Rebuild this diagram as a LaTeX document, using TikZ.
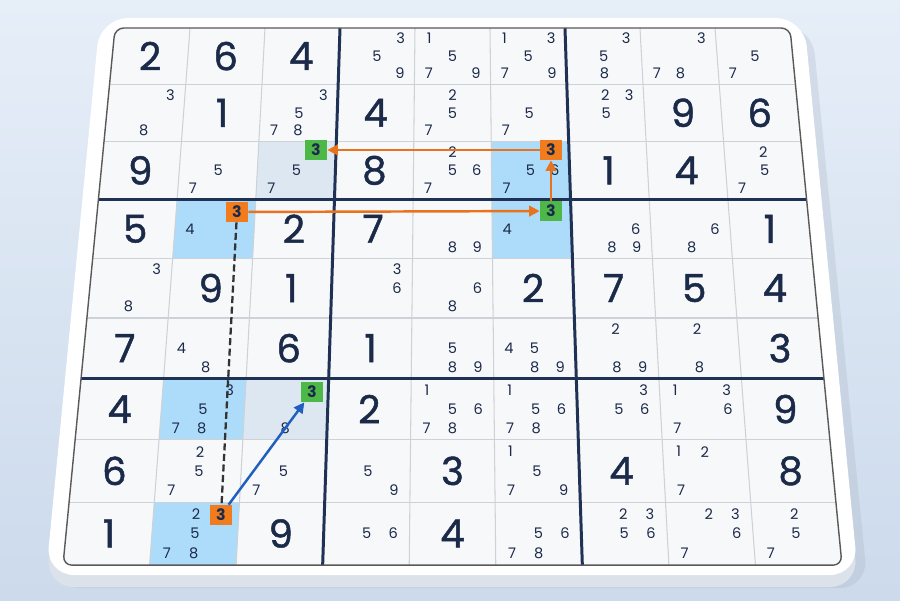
\documentclass[tikz,border=0pt]{standalone}
\usepackage{fontspec}
\setmainfont{Poppins}
\newfontfamily\givenfont{Poppins}[FakeBold=1.2]
\usepackage{tikz}
\usetikzlibrary{arrows.meta}
\usetikzlibrary{positioning}
\usepackage{xcolor}

\definecolor{ink}{HTML}{1B2A49}
\definecolor{boxline}{HTML}{1F3154}
\definecolor{thinline}{HTML}{CDD2D8}
\definecolor{cellbg}{HTML}{F7F8FA}
\definecolor{hlblue}{HTML}{ADDCFA}
\definecolor{hlpale}{HTML}{DDE7F2}
\definecolor{pickorange}{HTML}{F07C1E}
\definecolor{pickgreen}{HTML}{4DB848}
\definecolor{linkorange}{HTML}{E8731C}
\definecolor{linkblue}{HTML}{1F5FBF}
\definecolor{bgtop}{HTML}{E6EEF8}
\definecolor{bgbottom}{HTML}{CCDAEC}
\definecolor{slabside}{HTML}{DCE2E9}

\tikzset{
    given/.style={
        text=ink,
        inner sep=0pt,
        font=\givenfont\fontsize{22}{22}\selectfont
    },
    cand/.style={
        text=ink,
        inner sep=0pt,
        font=\fontsize{8.3}{8.3}\selectfont
    },
    pick/.style={
        fill=#1,
        text=ink,
        minimum width=0.44cm,
        minimum height=0.4cm,
        inner sep=0pt,
        font=\bfseries\fontsize{9}{9}\selectfont
    },
    link/.style={
        draw=#1,
        line width=1.4pt,
        -{Triangle[length=6pt, width=6pt]}
    },
    weaklink/.style={
        draw=black!80,
        line width=1.3pt,
        dash pattern=on 4pt off 2pt
    }
}

% map (column, row) of the grid onto the tilted board
\newcommand{\gridpt}[2]{%
  \pgfmathsetmacro{\gy}{28+55.9*(#2)+0.42*(#2)*(#2)}%
  \pgfmathsetmacro{\gt}{(\gy-28)/537}%
  \pgfmathsetmacro{\gx}{115-52*\gt+(#1)*(675+104*\gt)/9}%
}
\newcommand{\fillcell}[3]{%
  \pgfmathtruncatemacro{\ca}{#2-1}\pgfmathtruncatemacro{\ra}{#1-1}%
  \fill[#3] (p-\ca-\ra) -- (p-#2-\ra) -- (p-#2-#1) -- (p-\ca-#1) -- cycle;%
}

\begin{document}
\begin{tikzpicture}[x=0.02cm, y=-0.02cm]
  \useasboundingbox (0,0) rectangle (900,600);
  \shade[top color=bgtop, bottom color=bgbottom] (0,0) rectangle (900,600);

  % Board slab
  \fill[bgbottom!80!black, opacity=0.25, rounded corners=16pt]
    (108,26) -- (812,26) -- (868,588) -- (52,588) -- cycle;
  \fill[slabside, rounded corners=16pt]
    (100,30) -- (804,30) -- (858,587) -- (46,587) -- cycle;
  \fill[white, rounded corners=16pt]
    (100,18) -- (804,18) -- (858,575) -- (46,575) -- cycle;

  % Grid points
  \foreach \i in {0,...,9}
    \foreach \j in {0,...,9}{
      \gridpt{\i}{\j}
      \coordinate (p-\i-\j) at (\gx,\gy);
    }

  % Cells
  \fill[cellbg, rounded corners=5pt] (p-0-0) -- (p-9-0) -- (p-9-9) -- (p-0-9) -- cycle;
  \fillcell{3}{3}{hlpale}
  \fillcell{7}{3}{hlpale}
  \fillcell{3}{6}{hlblue}
  \fillcell{4}{2}{hlblue}
  \fillcell{4}{6}{hlblue}
  \fillcell{7}{2}{hlblue}
  \fillcell{9}{2}{hlblue}

  % Grid lines
  \foreach \k in {1,2,4,5,7,8}{
    \draw[thinline, line width=0.6pt] (p-0-\k) -- (p-9-\k);
    \draw[thinline, line width=0.6pt] (p-\k-0) -- (p-\k-9);
  }
  \foreach \k in {3,6}{
    \draw[boxline, line width=1.7pt] (p-0-\k) -- (p-9-\k);
    \draw[boxline, line width=1.7pt] (p-\k-0) -- (p-\k-9);
  }
  \draw[black!65, line width=0.8pt, rounded corners=5pt]
    (p-0-0) -- (p-9-0) -- (p-9-9) -- (p-0-9) -- cycle;

  % Givens
  \foreach \r/\c/\d in {1/1/2, 1/2/6, 1/3/4, 2/2/1, 2/4/4, 2/8/9, 2/9/6,
      3/1/9, 3/4/8, 3/7/1, 3/8/4, 4/1/5, 4/3/2, 4/4/7, 4/9/1,
      5/2/9, 5/3/1, 5/6/2, 5/7/7, 5/8/5, 5/9/4, 6/1/7, 6/3/6, 6/4/1, 6/9/3,
      7/1/4, 7/4/2, 7/9/9, 8/1/6, 8/5/3, 8/7/4, 8/9/8, 9/1/1, 9/3/9, 9/5/4}{
    \gridpt{\c-0.5}{\r-0.5}
    \node[given] (g-\r-\c) at (\gx,\gy) {\d};
  }

  % Candidates
  \foreach \r/\c/\ds in {1/4/{3,5,9}, 1/5/{1,5,7,9}, 1/6/{1,3,5,7,9}, 1/7/{3,5,8},
      1/8/{3,7,8}, 1/9/{5,7}, 2/1/{3,8}, 2/3/{3,5,7,8}, 2/5/{2,5,7}, 2/6/{5,7},
      2/7/{2,3,5}, 3/2/{5,7}, 3/3/{5,7}, 3/5/{2,5,6,7}, 3/6/{5,6,7}, 3/9/{2,5,7},
      4/2/{4}, 4/5/{8,9}, 4/6/{4}, 4/7/{6,8,9}, 4/8/{6,8}, 5/1/{3,8}, 5/4/{3,6},
      5/5/{6,8}, 6/2/{4,8}, 6/5/{5,8,9}, 6/6/{4,5,8,9}, 6/7/{2,8,9}, 6/8/{2,8},
      7/2/{3,5,7,8}, 7/3/{8}, 7/5/{1,5,6,7,8}, 7/6/{1,5,6,7,8}, 7/7/{3,5,6},
      7/8/{1,3,6,7}, 8/2/{2,5,7}, 8/3/{5,7}, 8/4/{5,9}, 8/6/{1,5,7,9}, 8/8/{1,2,7},
      9/2/{2,5,7,8}, 9/4/{5,6}, 9/6/{5,6,7,8}, 9/7/{2,3,5,6}, 9/8/{2,3,6,7},
      9/9/{2,5,7}}{
    \foreach \d in \ds{
      \pgfmathtruncatemacro{\dr}{(\d-1)/3}
      \pgfmathtruncatemacro{\dc}{\d-1-3*\dr}
      \gridpt{\c-1+0.19+0.31*\dc}{\r-1+0.19+0.31*\dr}
      \node[cand] (c-\r-\c-\d) at (\gx,\gy) {\d};
    }
  }

  % Chain cells
  \node[pick=pickorange] (o1) at (551,150) {3};
  \node[pick=pickgreen] (g1) at (316,150) {3};
  \node[pick=pickorange] (o2) at (237,212) {3};
  \node[pick=pickgreen] (g2) at (551,211) {3};
  \node[pick=pickgreen] (g3) at (312,392) {3};
  \node[pick=pickorange] (o3) at (221,515) {3};

  % Links
  \draw[link=linkorange] (o1) -- (g1);
  \draw[link=linkorange] (o2) -- (g2);
  \draw[link=linkorange] (g2) -- (o1);
  \draw[weaklink] (o2) -- (o3);
  \draw[link=linkblue] (o3) -- (g3);
\end{tikzpicture}
\end{document}
